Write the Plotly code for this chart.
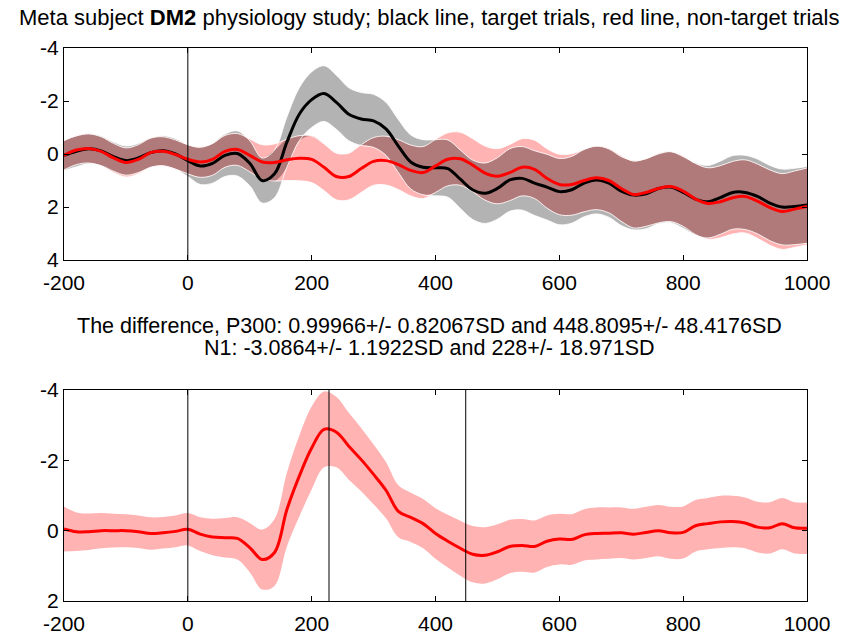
import numpy as np
import plotly.graph_objects as go
from plotly.subplots import make_subplots

# ---- sampling grid (ms) ----
times = list(range(-200, 1001, 20))

# ---- grand averages (uV), target vs non-target trials ----
target_mean = [
    0.05, -0.10, -0.20, -0.12, 0.10, 0.25, 0.15, -0.05, -0.12, 0.00,
    0.25, 0.45, 0.35, 0.05, -0.02, 0.35, 1.00, 0.75, -0.45, -1.50,
    -2.05, -2.28, -1.95, -1.50, -1.32, -1.25, -0.95, -0.30, 0.30, 0.50,
    0.52, 0.55, 0.95, 1.35, 1.48, 1.30, 0.98, 0.92, 1.10, 1.25,
    1.42, 1.35, 1.10, 0.98, 1.10, 1.40, 1.55, 1.50, 1.30, 1.25,
    1.45, 1.70, 1.80, 1.65, 1.45, 1.45, 1.60, 1.85, 2.00, 1.98,
    1.92,
]
target_sd = [
    0.58, 0.58, 0.57, 0.56, 0.55, 0.55, 0.55, 0.56, 0.57, 0.58,
    0.60, 0.70, 0.75, 0.80, 0.85, 0.85, 0.85, 0.90, 0.95, 1.00,
    1.05, 1.05, 1.02, 1.00, 1.00, 1.00, 1.00, 1.00, 1.02, 1.04,
    1.06, 1.08, 1.10, 1.12, 1.14, 1.16, 1.18, 1.20, 1.22, 1.24,
    1.25, 1.26, 1.27, 1.28, 1.29, 1.30, 1.31, 1.32, 1.33, 1.34,
    1.35, 1.36, 1.37, 1.38, 1.39, 1.40, 1.41, 1.42, 1.43, 1.44,
    1.45,
]
nontarget_mean = [
    0.05, -0.15, -0.21, -0.10, 0.15, 0.32, 0.20, -0.05, -0.10, 0.02,
    0.20, 0.30, 0.20, -0.10, -0.17, 0.05, 0.30, 0.32, 0.22, 0.16,
    0.20, 0.50, 0.85, 0.85, 0.55, 0.28, 0.25, 0.40, 0.62, 0.70,
    0.45, 0.20, 0.18, 0.42, 0.72, 0.84, 0.70, 0.50, 0.58, 0.92,
    1.15, 1.15, 1.00, 0.90, 1.00, 1.30, 1.53, 1.45, 1.30, 1.23,
    1.40, 1.70, 1.87, 1.80, 1.65, 1.60, 1.78, 2.02, 2.17, 2.08,
    1.98,
]
nontarget_sd = [
    0.55, 0.55, 0.55, 0.55, 0.55, 0.55, 0.55, 0.55, 0.55, 0.55,
    0.55, 0.58, 0.60, 0.60, 0.60, 0.62, 0.65, 0.70, 0.78, 0.85,
    0.88, 0.88, 0.88, 0.88, 0.90, 0.90, 0.92, 0.94, 0.96, 0.98,
    1.00, 1.00, 1.00, 1.00, 1.02, 1.04, 1.06, 1.08, 1.10, 1.12,
    1.14, 1.16, 1.18, 1.20, 1.22, 1.24, 1.26, 1.28, 1.30, 1.32,
    1.33, 1.34, 1.35, 1.36, 1.37, 1.38, 1.40, 1.42, 1.43, 1.44,
    1.45,
]

# ---- difference wave (target - non-target) ----
diff_mean = [
    -0.05, 0.03, 0.03, 0.00, 0.00, 0.00, 0.03, 0.08, 0.06, 0.02,
    -0.04, 0.10, 0.18, 0.20, 0.22, 0.48, 0.82, 0.62, -0.60, -1.55,
    -2.35, -2.88, -2.80, -2.40, -2.02, -1.60, -1.15, -0.55, -0.38, -0.20,
    0.08, 0.30, 0.50, 0.67, 0.70, 0.60, 0.45, 0.42, 0.45, 0.30,
    0.24, 0.25, 0.12, 0.08, 0.07, 0.06, 0.10, 0.05, 0.00, 0.06,
    0.05, -0.14, -0.20, -0.25, -0.26, -0.22, -0.10, -0.08, -0.20, -0.08,
    -0.07,
]
diff_sd = [
    0.64, 0.55, 0.52, 0.50, 0.48, 0.47, 0.46, 0.46, 0.45, 0.45,
    0.46, 0.48, 0.52, 0.56, 0.60, 0.70, 0.85, 0.95, 1.05, 1.15,
    1.18, 1.08, 1.00, 0.95, 0.90, 0.85, 0.80, 0.74, 0.70, 0.70,
    0.72, 0.75, 0.78, 0.80, 0.80, 0.78, 0.76, 0.75, 0.74, 0.73,
    0.72, 0.72, 0.73, 0.74, 0.73, 0.72, 0.72, 0.73, 0.73, 0.74,
    0.74, 0.73, 0.73, 0.74, 0.73, 0.72, 0.72, 0.73, 0.73, 0.73,
    0.73,
]

# ---- peak statistics ----
subject = "DM2"
stim_onset = 0
p300_amp, p300_amp_sd = "0.99966", "0.82067"
p300_lat, p300_lat_sd = 448.8095, "48.4176"
n1_amp, n1_amp_sd = "-3.0864", "1.1922"
n1_lat, n1_lat_sd = 228, "18.971"

# ---- axis ticks ----
x_ticks = [-200, 0, 200, 400, 600, 800, 1000]
x_ticktext = ["-200", "0", "200", "400", "600", "800", "1000"]
y1_ticks = [-4, -2, 0, 2, 4]
y1_ticktext = ["-4", "-2", "0", "2", "4"]
y2_ticks = [-4, -2, 0, 2]
y2_ticktext = ["-4", "-2", "0", "2"]

GRAY = "#b3b3b3"
PINK = "#ffb3b3"
OVERLAP = "#b07a7a"
FONT = "Liberation Sans, Arial, sans-serif"
FS = 21

t = np.array(times)
m1, s1 = np.array(target_mean), np.array(target_sd)
m2, s2 = np.array(nontarget_mean), np.array(nontarget_sd)
lo1, hi1 = m1 - s1, m1 + s1
lo2, hi2 = m2 - s2, m2 + s2
ov_lo = np.maximum(lo1, lo2)
ov_hi = np.maximum(np.minimum(hi1, hi2), ov_lo)

fig = make_subplots(rows=2, cols=1)


def band(lo, hi, color, row):
    fig.add_trace(go.Scatter(x=t, y=lo, mode="lines", line=dict(width=0, shape="spline"),
                             hoverinfo="skip", showlegend=False), row=row, col=1)
    fig.add_trace(go.Scatter(x=t, y=hi, mode="lines", line=dict(width=0, shape="spline"),
                             fill="tonexty", fillcolor=color, hoverinfo="skip",
                             showlegend=False), row=row, col=1)


def edge(y, row):
    fig.add_trace(go.Scatter(x=t, y=y, mode="lines",
                             line=dict(width=1, color="rgba(255,255,255,0.85)", shape="spline"),
                             hoverinfo="skip", showlegend=False), row=row, col=1)


# top: target (gray) and non-target (pink) bands, overlap shaded darker
band(lo1, hi1, GRAY, 1)
band(lo2, hi2, PINK, 1)
band(ov_lo, ov_hi, OVERLAP, 1)
for e in (lo1, hi1, lo2, hi2):
    edge(e, 1)
fig.add_trace(go.Scatter(x=t, y=m1, mode="lines", name="target",
                         line=dict(color="black", width=3, shape="spline"),
                         showlegend=False), row=1, col=1)
fig.add_trace(go.Scatter(x=t, y=m2, mode="lines", name="non-target",
                         line=dict(color="#ff0000", width=3, shape="spline"),
                         showlegend=False), row=1, col=1)

# bottom: difference wave
d, ds = np.array(diff_mean), np.array(diff_sd)
band(d - ds, d + ds, PINK, 2)
fig.add_trace(go.Scatter(x=t, y=d, mode="lines", name="difference",
                         line=dict(color="#ff0000", width=3, shape="spline"),
                         showlegend=False), row=2, col=1)

# vertical markers
for xv, yref in [(stim_onset, "y"), (stim_onset, "y2"), (n1_lat, "y2"), (p300_lat, "y2")]:
    fig.add_shape(type="line", x0=xv, x1=xv, y0=0, y1=1,
                  xref="x" if yref == "y" else "x2", yref=f"{yref} domain",
                  line=dict(color="black", width=1), layer="above")

axis_common = dict(showline=True, linecolor="black", linewidth=1, mirror="ticks",
                   ticks="inside", ticklen=5, tickwidth=1, tickcolor="black",
                   showgrid=False, zeroline=False, automargin=False,
                   tickfont=dict(family=FONT, size=FS, color="black"))

W, H = 858, 635
fig.update_xaxes(range=[-200, 1000], tickvals=x_ticks, ticktext=x_ticktext,
                 ticklabelstandoff=4, **axis_common)
fig.update_xaxes(domain=[64 / W, 807 / W], row=1, col=1)
fig.update_xaxes(domain=[64 / W, 807 / W], row=2, col=1)
fig.update_yaxes(range=[4, -4], tickvals=y1_ticks, ticktext=y1_ticktext,
                 domain=[1 - 260 / H, 1 - 48 / H], row=1, col=1, **axis_common)
fig.update_yaxes(range=[2, -4], tickvals=y2_ticks, ticktext=y2_ticktext,
                 domain=[1 - 601 / H, 1 - 390 / H], row=2, col=1, **axis_common)

fig.add_annotation(
    text=f"Meta subject <b>{subject}</b> physiology study; black line, target trials, "
         f"red line, non-target trials",
    x=0.5, y=1 - 17 / H, xref="paper", yref="paper", xanchor="center", yanchor="middle",
    showarrow=False, font=dict(family=FONT, size=22, color="black"))
sub_font = dict(family=FONT, size=21.5, color="black")
fig.add_annotation(
    text=f"The difference, P300: {p300_amp}+/- {p300_amp_sd}SD and {p300_lat}+/- {p300_lat_sd}SD",
    x=0.5, y=1 - 326 / H, xref="paper", yref="paper", xanchor="center", yanchor="middle",
    showarrow=False, font=sub_font)
fig.add_annotation(
    text=f"N1: {n1_amp}+/- {n1_amp_sd}SD and {n1_lat}+/- {n1_lat_sd}SD",
    x=0.5, y=1 - 348 / H, xref="paper", yref="paper", xanchor="center", yanchor="middle",
    showarrow=False, font=sub_font)

fig.update_layout(width=W, height=H, autosize=False,
                  margin=dict(l=0, r=0, t=0, b=0),
                  paper_bgcolor="white", plot_bgcolor="white",
                  showlegend=False)

fig.write_html("out.html")
